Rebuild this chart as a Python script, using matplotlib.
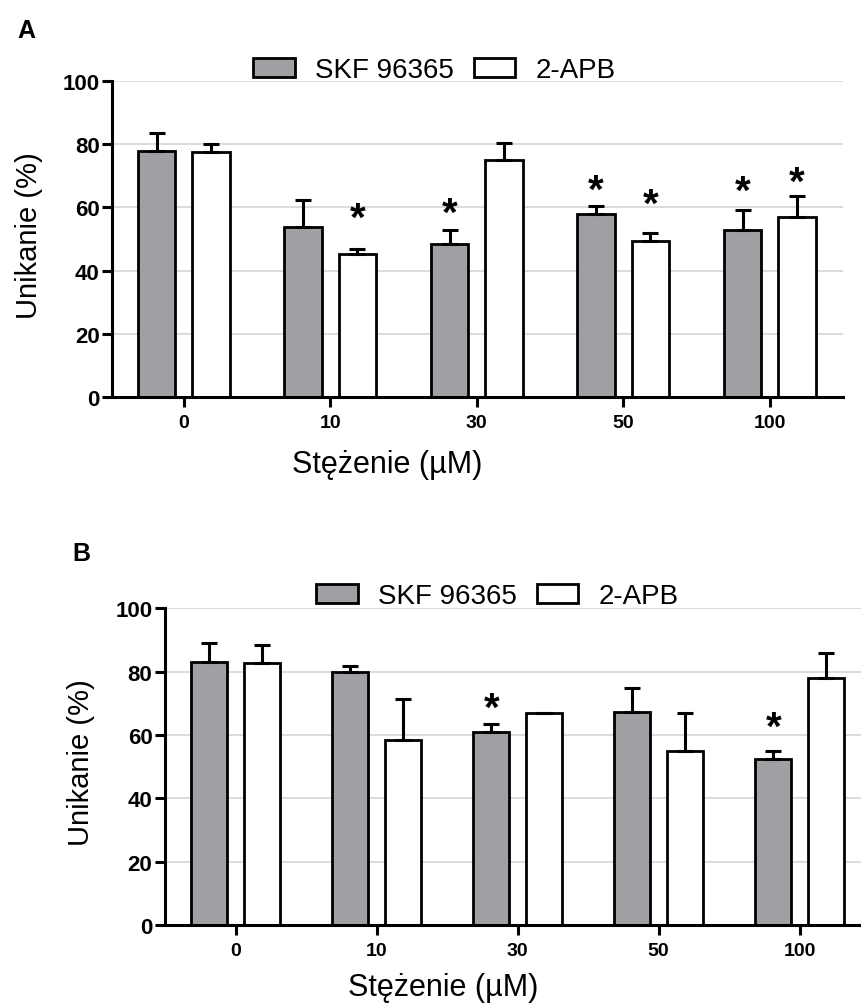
import numpy as np
import matplotlib
matplotlib.use("Agg")
import matplotlib.pyplot as plt

plt.rcParams.update({
    "font.family": ["Liberation Sans", "DejaVu Sans"],
    "axes.linewidth": 2.2,
    "axes.spines.top": False,
    "axes.spines.right": False,
})

# ---- data ----
concentrations = ["0", "10", "30", "50", "100"]
series_names = ["SKF 96365", "2-APB"]

# panel A
a_skf = [78.0, 53.9, 48.4, 57.9, 52.9]
a_skf_err = [5.5, 8.4, 4.5, 2.6, 6.4]
a_apb = [77.6, 45.4, 75.0, 49.5, 56.9]
a_apb_err = [2.4, 1.4, 5.4, 2.5, 6.6]
a_skf_star = [np.nan, np.nan, 60.2, 67.4, 67.2]
a_apb_star = [np.nan, 58.5, np.nan, 63.0, 70.0]

# panel B
b_skf = [83.0, 80.0, 60.8, 67.4, 52.4]
b_skf_err = [6.0, 1.9, 2.7, 7.3, 2.6]
b_apb = [82.6, 58.5, 66.9, 55.0, 77.9]
b_apb_err = [5.7, 12.9, 0.0, 11.9, 8.0]
b_skf_star = [np.nan, np.nan, 70.5, np.nan, 64.5]
b_apb_star = [np.nan, np.nan, np.nan, np.nan, np.nan]

GRAY = "#a0a0a4"
W, H = 861, 1004


def draw_panel(ax, skf, skf_err, apb, apb_err, skf_star, apb_star, xlim):
    x = np.arange(len(concentrations))
    off, bw = 0.185, 0.255
    groups = [(x - off, skf, skf_err, skf_star, GRAY, series_names[0]),
              (x + off, apb, apb_err, apb_star, "white", series_names[1])]
    for xs, vals, err, stars, color, name in groups:
        ax.bar(xs, vals, bw, color=color, edgecolor="black", linewidth=2.0,
               label=name, zorder=2)
        ax.errorbar(xs, vals, yerr=[np.zeros(len(vals)), err], fmt="none",
                    ecolor="black", elinewidth=2.2, capsize=6, capthick=2.2,
                    zorder=3)
        for xi, s in zip(xs, stars):
            if not np.isnan(s):
                # the asterisk glyph sits high in its box, nudge it down
                ax.annotate("*", (xi, s), xytext=(0, -5),
                            textcoords="offset points", ha="center",
                            va="center", fontsize=29, fontweight="bold",
                            zorder=4)

    ax.set_xlim(*xlim)
    ax.set_ylim(0, 100)
    ax.set_yticks(range(0, 101, 20))
    ax.set_xticks(x)
    ax.set_xticklabels(concentrations)
    ax.yaxis.grid(True, color="#d8d8d8", linewidth=1.3)
    ax.set_axisbelow(True)
    ax.tick_params(axis="y", direction="out", length=7, width=2.2, pad=2,
                   labelsize=16)
    ax.tick_params(axis="x", direction="out", length=7, width=2.2, pad=5,
                   labelsize=14)
    for lab in ax.get_xticklabels() + ax.get_yticklabels():
        lab.set_fontweight("bold")


fig = plt.figure(figsize=(W / 100, H / 100), dpi=100)

# panel A: axes box 112..843 px wide, 82..398 px tall
ax_a = fig.add_axes([112 / W, 1 - 398 / H, 731 / W, 316 / H])
draw_panel(ax_a, a_skf, a_skf_err, a_apb, a_apb_err, a_skf_star, a_apb_star,
           (-0.49, 4.5))
ax_a.set_ylabel("Unikanie (%)", fontsize=21, va="center")
ax_a.yaxis.set_label_coords(-0.1135, 0.513)
ax_a.set_xlabel("Stężenie (µM)", fontsize=22, va="center")
ax_a.xaxis.set_label_coords(0.377, -0.212)

# panel B: axis runs past the right edge of the figure, as in the reference
ax_b = fig.add_axes([165 / W, 1 - 926 / H, 705 / W, 316.7 / H])
draw_panel(ax_b, b_skf, b_skf_err, b_apb, b_apb_err, b_skf_star, b_apb_star,
           (-0.5, 4.5))
ax_b.set_ylabel("Unikanie (%)", fontsize=21, va="center")
ax_b.yaxis.set_label_coords(-0.119, 0.515)
ax_b.set_xlabel("Stężenie (µM)", fontsize=22, va="center")
ax_b.xaxis.set_label_coords(0.394, -0.196)

legend_kw = dict(loc="center left", bbox_transform=fig.transFigure, ncol=2,
                 frameon=False, fontsize=20, borderpad=0, borderaxespad=0,
                 handlelength=1.5, handleheight=0.65, handletextpad=0.72,
                 columnspacing=0.72)
ax_a.legend(bbox_to_anchor=(253 / W, 1 - 71 / H), **legend_kw)
ax_b.legend(bbox_to_anchor=(316 / W, 1 - 597 / H), **legend_kw)

fig.text(26 / W, 1 - 31 / H, "A", ha="center", va="center", fontsize=18,
         fontweight="bold")
fig.text(81 / W, 1 - 554 / H, "B", ha="center", va="center", fontsize=18,
         fontweight="bold")

fig.savefig("out.png", dpi=100)
